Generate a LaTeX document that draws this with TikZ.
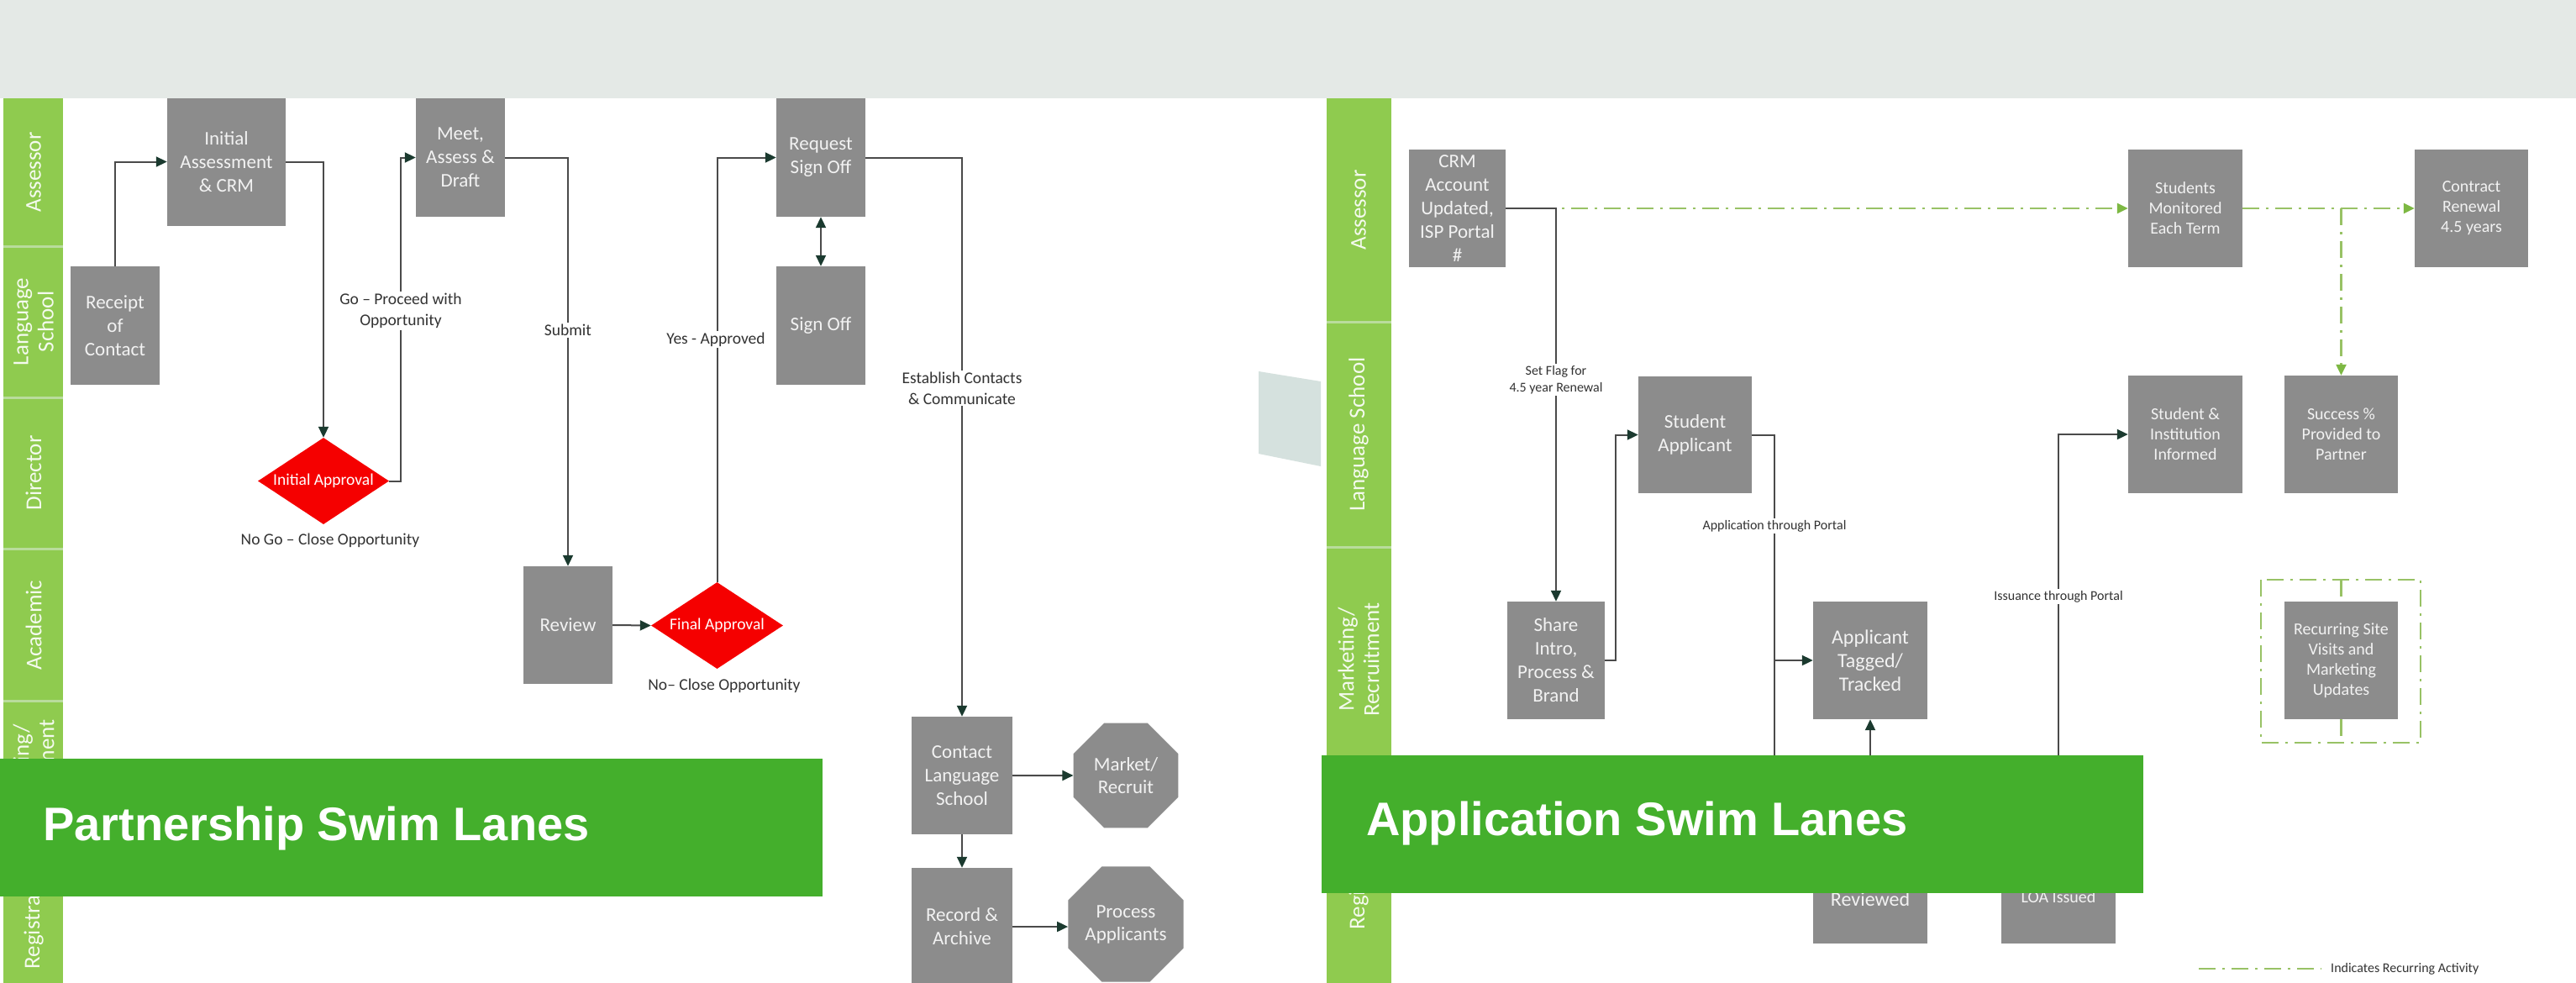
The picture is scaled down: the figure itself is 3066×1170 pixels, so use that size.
\documentclass[tikz,border=0pt]{standalone}
\usepackage{fontspec}
\setmainfont{Carlito}
\newfontfamily\bannerfont{Liberation Sans}
\usetikzlibrary{shapes.geometric,arrows.meta,calc}
\definecolor{bandgray}{HTML}{E4E9E6}
\definecolor{lanegreen}{HTML}{8FCB4F}
\definecolor{lanediv}{HTML}{B9DC9C}
\definecolor{lanetext}{HTML}{F4FAEE}
\definecolor{boxgray}{HTML}{8C8C8C}
\definecolor{boxtext}{HTML}{F2F2F2}
\definecolor{appred}{HTML}{F50000}
\definecolor{bannergreen}{HTML}{44AF2C}
\definecolor{arrowc}{HTML}{1B3A2F}
\definecolor{linec}{HTML}{4A4A4A}
\definecolor{recgreen}{HTML}{98C265}
\definecolor{recarrow}{HTML}{7DB843}
\definecolor{trapc}{HTML}{D5E1DE}
\definecolor{labeltext}{HTML}{333333}
\begin{document}
\begin{tikzpicture}[x=1pt,y=-1pt,
  box/.style={rectangle,fill=boxgray,text=boxtext,align=center,inner sep=0pt,font=\fontsize{23}{28}\selectfont},
  sbox/.style={box,font=\fontsize{20}{24}\selectfont},
  oct/.style={regular polygon,regular polygon sides=8,fill=boxgray,text=boxtext,align=center,inner sep=0pt,minimum size=135pt,font=\fontsize{23}{27}\selectfont},
  dia/.style={diamond,fill=appred,text=white,aspect=1.5,inner sep=0pt,font=\fontsize{19.5}{22}\selectfont},
  lane/.style={rotate=90,text=lanetext,align=center,font=\fontsize{27}{30}\selectfont},
  lbl/.style={fill=white,text=labeltext,align=center,inner sep=2pt,font=\fontsize{19.5}{25}\selectfont},
  slbl/.style={fill=white,text=labeltext,align=center,inner sep=2pt,font=\fontsize{16}{20}\selectfont},
  wire/.style={draw=linec,line width=2pt},
  conn/.style={wire,-{Triangle[length=13pt,width=12pt,color=arrowc]}},
  biconn/.style={wire,{Triangle[length=13pt,width=12pt,color=arrowc]}-{Triangle[length=13pt,width=12pt,color=arrowc]}},
  recur/.style={draw=recgreen,line width=2.5pt,dash pattern=on 20pt off 8pt on 3pt off 8pt},
  rconn/.style={recur,-{Triangle[length=13pt,width=12pt,color=recarrow]}},
  bannertext/.style={text=white,anchor=base west,inner sep=0pt,font=\bannerfont\bfseries\fontsize{56}{60}\selectfont}
]
\useasboundingbox (0,0) rectangle (3066,1170);
\fill[white] (0,0) rectangle (3066,1170);

% ---------- left lane strip ----------
\fill[lanegreen] (4,117) rectangle (75,1170);
\foreach \yy in {293,473,653,834,1014} \draw[lanediv,line width=3pt] (4,\yy) -- (75,\yy);
\node[lane] (lA) at (40,205) {Assessor};
\node[lane] (lL) at (40,383) {Language\\School};
\node[lane] (lD) at (40,563) {Director};
\node[lane] (lC) at (40,744) {Academic};
\node[lane] (lM) at (40,924) {Marketing/\\Recruitment};
\node[lane] (lR) at (40,1088) {Registration};

% ---------- left nodes ----------
\node[box,minimum width=106pt,minimum height=141pt] (recv) at (137,387.5) {Receipt\\of\\Contact};
\node[box,minimum width=141pt,minimum height=152pt] (init) at (269.5,192.5) {Initial\\Assessment\\\& CRM};
\node[box,minimum width=106pt,minimum height=141pt] (meet) at (548,187.5) {Meet,\\Assess \&\\Draft};
\node[box,minimum width=106pt,minimum height=141pt] (req) at (977,187.5) {Request\\Sign Off};
\node[box,minimum width=106pt,minimum height=141pt] (sign) at (977,387.5) {Sign Off};
\node[dia,minimum width=156pt,minimum height=103pt] (appr1) at (385,572.5) {Initial Approval};
\node[box,minimum width=106pt,minimum height=140pt] (rev) at (676,744) {Review};
\node[dia,minimum width=157pt,minimum height=103pt] (appr2) at (853.5,744.5) {Final Approval};
\node[box,minimum width=120pt,minimum height=140pt] (contact) at (1145,923) {Contact\\Language\\School};
\node[oct] (market) at (1340,923) {Market/\\Recruit};
\node[box,minimum width=120pt,minimum height=140pt] (record) at (1145,1103) {Record \&\\Archive};
\node[oct] (process) at (1340,1100) {Process\\Applicants};

% ---------- left connectors ----------
\coordinate (go) at (477,572.5);
\draw[conn] (recv.north) |- (init.west);
\draw[conn] (init.east) -| (appr1.north);
\draw[conn] (appr1.east) -- (go) |- (meet.west);
\draw[conn] (meet.east) -| (rev.north);
\draw[conn] (rev.east) -- (appr2.west);
\draw[conn] (appr2.north) |- (req.west);
\draw[biconn] (req.south) -- (sign.north);
\draw[conn] (req.east) -| (contact.north);
\draw[conn] (contact.east) -- (market.west);
\draw[conn] (contact.south) -- (record.north);
\draw[conn] (record.east) -- (record.east -| process.west);

\node[lbl] (golbl) at (477,370) {Go – Proceed with\\Opportunity};
\node[lbl] (nogo) at (393,643) {No Go – Close Opportunity};
\node[lbl] (sublbl) at (676,393) {Submit};
\node[lbl] (yeslbl) at (852,404) {Yes - Approved};
\node[lbl] (nolbl) at (862,816) {No– Close Opportunity};
\node[lbl] (estlbl) at (1145,462) {Establish Contacts\\\& Communicate};

% ---------- middle shape ----------
\fill[trapc] (1498,442) -- (1572,454) -- (1572,555) -- (1498,540) -- cycle;

% ---------- right lane strip ----------
\fill[lanegreen] (1579,117) rectangle (1656,1170);
\foreach \yy in {383,651,919} \draw[lanediv,line width=3pt] (1579,\yy) -- (1656,\yy);
\node[lane] (rA) at (1617,250) {Assessor};
\node[lane] (rL) at (1617,517) {Language School};
\node[lane] (rM) at (1617,785) {Marketing/\\Recruitment};
\node[lane] (rR) at (1617,1041) {Registration};

% ---------- right nodes ----------
\node[box,minimum width=115pt,minimum height=140pt] (crm) at (1734.5,248) {CRM\\Account\\Updated,\\ISP Portal\\\#};
\node[sbox,minimum width=136pt,minimum height=140pt] (stud) at (2601,248) {Students\\Monitored\\Each Term};
\node[sbox,minimum width=135pt,minimum height=140pt] (contr) at (2941.5,248) {Contract\\Renewal\\4.5 years};
\node[sbox,minimum width=135pt,minimum height=140pt] (succ) at (2786.5,517) {Success \%\\Provided to\\Partner};
\node[sbox,minimum width=136pt,minimum height=140pt] (inform) at (2601,517) {Student \&\\Institution\\Informed};
\node[box,minimum width=135pt,minimum height=139pt] (sapp) at (2017.5,517.5) {Student\\Applicant};
\node[box,minimum width=116pt,minimum height=140pt] (share) at (1852,786) {Share\\Intro,\\Process \&\\Brand};
\node[box,minimum width=136pt,minimum height=140pt,font=\fontsize{24}{28}\selectfont] (tag) at (2226,786) {Applicant\\Tagged/\\Tracked};
\node[box,minimum width=136pt,minimum height=140pt] (rview) at (2226,1053) {};
\node[box,font=\fontsize{24}{28}\selectfont,fill=none] (rviewt) at (2226,1070) {Reviewed};
\node[box,minimum width=136pt,minimum height=140pt] (loa) at (2450,1053) {};
\node[sbox,fill=none] (loat) at (2450,1068) {LOA Issued};
\node[sbox,minimum width=135pt,minimum height=140pt] (recb) at (2786.5,786) {Recurring Site\\Visits and\\Marketing\\Updates};

% ---------- right connectors ----------
\draw[rconn] (crm.east) -- (stud.west);
\draw[rconn] (stud.east) -- (contr.west);
\coordinate (sj) at (succ.north |- stud.east);
\draw[rconn] (sj) -- (succ.north);
\draw[conn] (crm.east) -| (share.north);
\coordinate (shx) at (1923,786);
\draw[conn] (share.east) -- (shx) |- (sapp.west);
\coordinate (apx) at (2112,1000);
\draw[wire] (sapp.east) -| (apx);
\draw[conn] (apx |- tag.west) -- (tag.west);
\draw[conn] (rview.north) -- (tag.south);
\draw[conn] (loa.north) |- (inform.west);

\draw[recur] (2691,690) rectangle (2881,884);
\coordinate (rt) at (2786.5,690);
\coordinate (rb) at (2786.5,884);
\draw[recur] (rt) -- (recb.north);
\draw[recur] (recb.south) -- (rb);

\node[slbl] (flaglbl) at (1852,452) {Set Flag for\\4.5 year Renewal};
\node[slbl] (aplbl) at (2112,626) {Application through Portal};
\node[slbl] (islbl) at (2450,710) {Issuance through Portal};

% legend
\coordinate (lg1) at (2617,1153);
\coordinate (lg2) at (2763,1153);
\draw[recur] (lg1) -- (lg2);
\node[slbl,fill=none,anchor=west] (lgt) at (2772,1153) {Indicates Recurring Activity};

% ---------- banners ----------
\fill[bannergreen] (0,903) rectangle (979,1067);
\node[bannertext] (b1) at (51,1000) {Partnership Swim Lanes};
\fill[bannergreen] (1573,899) rectangle (2551,1063);
\node[bannertext] (b2) at (1626,994) {Application Swim Lanes};

% ---------- top band ----------
\fill[bandgray] (0,0) rectangle (3066,117);
\end{tikzpicture}
\end{document}
